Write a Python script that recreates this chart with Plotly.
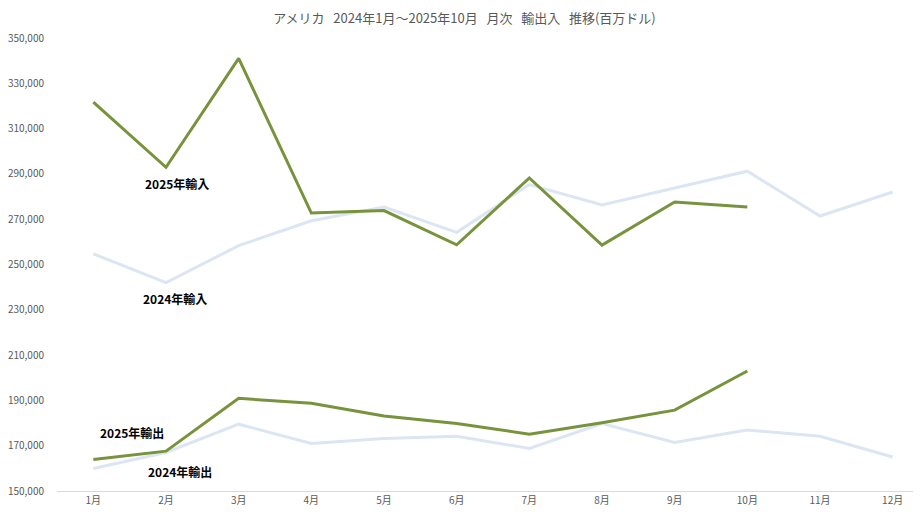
import plotly.graph_objects as go

months = ["1月", "2月", "3月", "4月", "5月", "6月", "7月", "8月", "9月", "10月", "11月", "12月"]
import_2024 = [254700, 242000, 258300, 269300, 275400, 264200, 285300, 276300, 283800, 291200, 271400, 282000]
import_2025 = [321700, 292900, 341000, 272700, 273800, 258700, 288200, 258600, 277600, 275400]
export_2024 = [159900, 167000, 179500, 171000, 173200, 174200, 168800, 179800, 171400, 176900, 174200, 165000]
export_2025 = [163900, 167600, 190900, 188700, 183100, 179800, 175100, 180100, 185700, 203000]
y_ticks = [150000, 170000, 190000, 210000, 230000, 250000, 270000, 290000, 310000, 330000, 350000]

LIGHT = "#DCE6F2"
GREEN = "#77933C"
FONT = "Noto Sans CJK JP"
SP = "\u00a0\u00a0\u00a0"
title_text = "アメリカ" + SP + "2024年1月～2025年10月" + SP + "月次" + SP + "輸出入" + SP + "推移(百万ドル)"

fig = go.Figure()
fig.add_trace(go.Scatter(x=months, y=import_2024, mode="lines", line=dict(color=LIGHT, width=3), name="2024年輸入"))
fig.add_trace(go.Scatter(x=months, y=export_2024, mode="lines", line=dict(color=LIGHT, width=3), name="2024年輸出"))
fig.add_trace(go.Scatter(x=months[:len(import_2025)], y=import_2025, mode="lines", line=dict(color=GREEN, width=3), name="2025年輸入"))
fig.add_trace(go.Scatter(x=months[:len(export_2025)], y=export_2025, mode="lines", line=dict(color=GREEN, width=3), name="2025年輸出"))

labels = [
    ("2025年輸入", 1.15, 285800),
    ("2024年輸入", 1.12, 234800),
    ("2025年輸出", 0.53, 176000),
    ("2024年輸出", 1.19, 158800),
]
for text, xi, yv in labels:
    fig.add_annotation(x=xi, y=yv, xref="x", yref="y", text="<b>" + text + "</b>", showarrow=False,
                       font=dict(family=FONT, size=12, color="#000000"))

fig.update_layout(
    width=913, height=510,
    margin=dict(l=45, r=0, t=30, b=27),
    paper_bgcolor="white", plot_bgcolor="white",
    showlegend=False,
    title=dict(text=title_text,
               x=0.5, xanchor="center", y=1 - 10.5 / 510, yanchor="middle",
               font=dict(family=FONT, size=13, color="#595959")),
    font=dict(family=FONT, color="#595959"),
)
fig.update_xaxes(type="category", range=[-0.5, 11.39], showgrid=False, showline=True,
                 linecolor="#D9D9D9", linewidth=1, ticks="", tickfont=dict(size=10, color="#595959"))
fig.update_yaxes(range=[150000, 350000], tickvals=y_ticks, tickformat=",", showgrid=False,
                 zeroline=False, showline=False, ticks="", ticklabelstandoff=12,
                 tickfont=dict(size=10, color="#595959"))

fig.write_html("out.html")
